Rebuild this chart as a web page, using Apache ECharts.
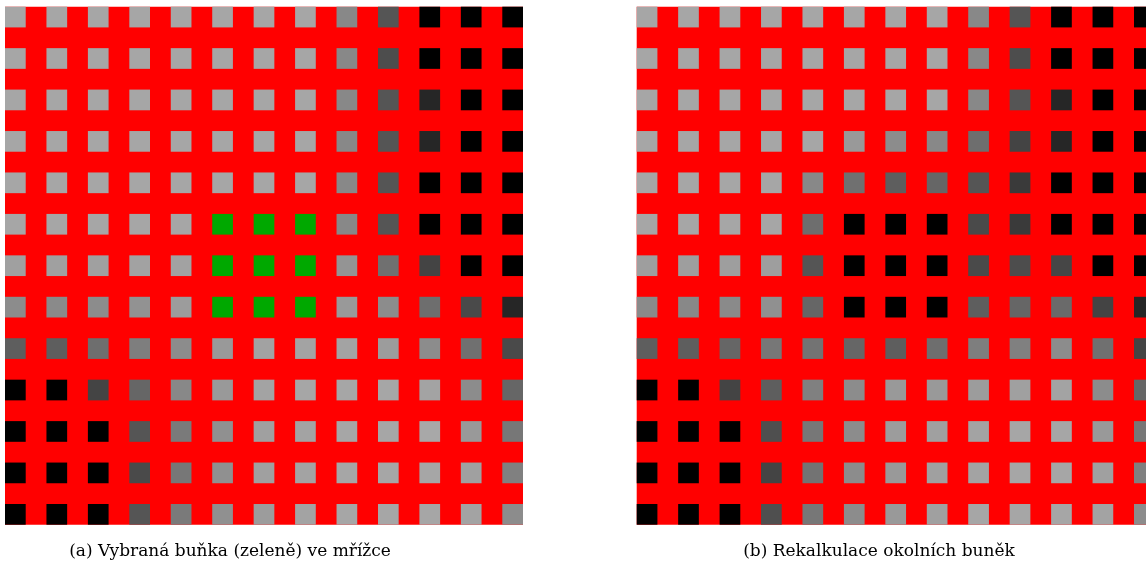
<!DOCTYPE html>
<html>
<head>
<meta charset="utf-8">
<script src="https://cdn.jsdelivr.net/npm/echarts@6/dist/echarts.min.js"></script>
<style>
  body { margin: 0; background: #fff; }
  #grid_chart { width: 1146px; height: 566px; }
</style>
</head>
<body>
<div id="grid_chart"></div>
<script>
// gray level of each cell (0 = black, 166 = light gray), -1 = selected (green)
var cols = [0, 1, 2, 3, 4, 5, 6, 7, 8, 9, 10, 11, 12];
var rows = [0, 1, 2, 3, 4, 5, 6, 7, 8, 9, 10, 11, 12];

var cellsA = [
  [166,166,166,166,166,166,166,166,136, 85,  0,  0,  0],
  [166,166,166,166,166,166,166,166,136, 77,  0,  0,  0],
  [166,166,166,166,166,166,166,166,136, 85, 38,  0,  0],
  [166,166,166,166,166,166,166,166,136, 85, 38,  0,  0],
  [166,166,166,166,166,166,166,166,136, 85,  0,  0,  0],
  [166,166,166,166,166, -1, -1, -1,136, 85,  0,  0,  0],
  [160,160,160,162,162, -1, -1, -1,148,112, 68,  0,  0],
  [140,138,140,146,156, -1, -1, -1,153,140,110, 74, 38],
  [ 94, 94,110,126,140,153,162,163,163,156,140,112, 74],
  [  0,  0, 68,102,136,153,163,166,166,166,163,140,102],
  [  0,  0,  0, 85,122,144,160,163,166,166,168,153,119],
  [  0,  0,  0, 74,119,144,160,163,166,166,166,160,128],
  [  0,  0,  0, 85,122,144,156,163,166,166,166,163,140]
];

var cellsB = [
  [166,166,166,166,166,166,166,166,136, 85,  0,  0,  0],
  [166,166,166,166,166,166,166,166,136, 77,  0,  0,  0],
  [166,166,166,166,166,166,166,166,136, 85, 38,  0,  0],
  [166,166,166,166,166,153,140,136,110, 68, 38,  0,  0],
  [166,166,166,166,136,112, 94,102, 85, 58,  0,  0,  0],
  [166,166,166,166,110,  0,  0,  0, 74, 58,  0,  0,  0],
  [158,158,158,158, 85,  0,  0,  0, 74, 77, 70,  0,  0],
  [138,136,138,144,102,  0,  0,  0, 94,102,106, 68, 38],
  [ 94, 94,102,119,115,102, 94,110,126,128,140,112, 68],
  [  0,  0, 68, 94,128,140,153,153,156,160,163,140,102],
  [  0,  0,  0, 79,119,140,156,160,163,166,166,153,119],
  [  0,  0,  0, 68,115,140,153,160,163,166,166,160,128],
  [  0,  0,  0, 79,119,140,153,160,166,166,166,163,140]
];

var captions = ['(a) Vybraná buňka (zeleně) ve mřížce', '(b) Rekalkulace okolních buněk'];

function toPoints(cells) {
  var pts = [];
  for (var r = 0; r < rows.length; r++) {
    for (var c = 0; c < cols.length; c++) {
      pts.push([cols[c], rows[r], cells[r][c]]);
    }
  }
  return pts;
}

function cellColor(p) {
  var v = p.value[2];
  if (v < 0) return '#00a800';
  return 'rgb(' + v + ',' + v + ',' + v + ')';
}

var chart = echarts.init(document.getElementById('grid_chart'));

var axisX = function (idx) {
  return { type: 'value', gridIndex: idx, min: -0.25, max: 12.25, show: false };
};
var axisY = function (idx) {
  return { type: 'value', gridIndex: idx, min: -0.25, max: 12.25, inverse: true, show: false };
};

var option = {
  animation: false,
  backgroundColor: '#fff',
  grid: [
    { left: 5, top: 6.7, width: 518, height: 518, show: true, backgroundColor: '#ff0000', borderWidth: 0, outerBoundsMode: 'none' },
    // right panel runs past the window edge, last column is cut off
    { left: 636.7, top: 6.7, width: 518, height: 518, show: true, backgroundColor: '#ff0000', borderWidth: 0, outerBoundsMode: 'none' }
  ],
  xAxis: [axisX(0), axisX(1)],
  yAxis: [axisY(0), axisY(1)],
  graphic: [
    { type: 'text', x: 230, y: 552, style: { text: captions[0], fill: '#000', font: '17px "DejaVu Serif"', textAlign: 'center', textVerticalAlign: 'middle' } },
    { type: 'text', x: 879, y: 552, style: { text: captions[1], fill: '#000', font: '17px "DejaVu Serif"', textAlign: 'center', textVerticalAlign: 'middle' } }
  ],
  series: [
    {
      type: 'scatter', xAxisIndex: 0, yAxisIndex: 0, silent: true,
      symbol: 'rect', symbolSize: 20.7,
      itemStyle: { color: cellColor, opacity: 1 },
      data: toPoints(cellsA)
    },
    {
      type: 'scatter', xAxisIndex: 1, yAxisIndex: 1, silent: true,
      symbol: 'rect', symbolSize: 20.7,
      itemStyle: { color: cellColor, opacity: 1 },
      data: toPoints(cellsB)
    }
  ]
};
chart.setOption(option);
</script>
</body>
</html>
